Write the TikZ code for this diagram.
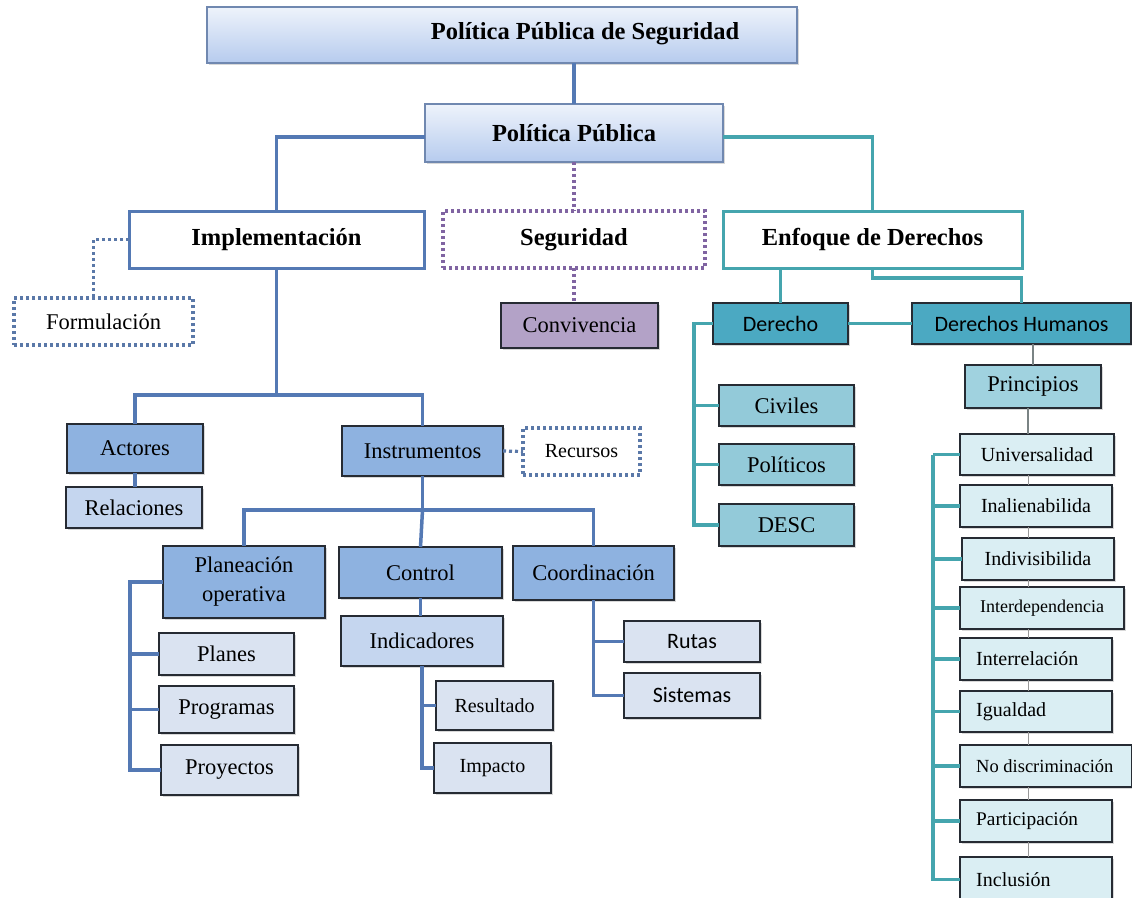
\documentclass[tikz,border=0pt]{standalone}
\usepackage{fontspec}
\setmainfont{Liberation Serif}
\newfontfamily\sansf{Carlito}
\usetikzlibrary{shadows}
\definecolor{cblue}{HTML}{5479B4}
\definecolor{cteal}{HTML}{45A5AE}
\definecolor{cpurp}{HTML}{8064A2}
\definecolor{cdot}{HTML}{5A78A8}
\definecolor{fmid}{HTML}{8EB2E0}
\definecolor{flight}{HTML}{C5D6EF}
\definecolor{fpale}{HTML}{DAE3F1}
\definecolor{fteal}{HTML}{4BA9C2}
\definecolor{ftealL}{HTML}{93CAD9}
\definecolor{fprin}{HTML}{A0D2DF}
\definecolor{flist}{HTML}{DAEEF3}
\definecolor{fconv}{HTML}{B3A2C7}
\definecolor{bdark}{HTML}{262B33}
\definecolor{btop}{HTML}{7088B0}
\definecolor{gtop}{HTML}{EEF3FB}
\definecolor{gbot}{HTML}{B6CBEE}
\newcommand\mkbox[7]{%
  \pgfmathsetmacro\mbcx{(#3+#5)/2}%
  \pgfmathsetmacro\mbcy{(#4+#6)/2}%
  \pgfmathsetmacro\mbw{#5-#3}%
  \pgfmathsetmacro\mbh{#6-#4}%
  \node[#2, minimum width=\mbw pt, minimum height=\mbh pt] (#1) at (\mbcx,\mbcy) {#7};}
\newcommand\mkboxL[7]{%
  \pgfmathsetmacro\mbcx{(#3+#5)/2}%
  \pgfmathsetmacro\mbcy{(#4+#6)/2}%
  \pgfmathsetmacro\mbw{#5-#3}%
  \pgfmathsetmacro\mbh{#6-#4}%
  \pgfmathsetmacro\mbtx{#3+16}%
  \node[#2, minimum width=\mbw pt, minimum height=\mbh pt] (#1) at (\mbcx,\mbcy) {};
  \node[sfont, anchor=west, inner sep=0pt] (#1-t) at (\mbtx,\mbcy) {#7};}
\tikzset{
  base/.style={inner sep=0pt, outer sep=0pt, text=black},
  hfont/.style={font=\fontsize{24.5}{28}\selectfont\bfseries},
  rfont/.style={font=\fontsize{22.5}{29}\selectfont},
  sfont/.style={font=\fontsize{20}{24}\selectfont},
  xsfont/.style={font=\fontsize{18}{22}\selectfont},
  sansfont/.style={font=\sansf\fontsize{22}{26}\selectfont},
  shad/.style={drop shadow={opacity=0.3, shadow xshift=1.5pt, shadow yshift=-1.5pt}},
  gradbox/.style={base, draw=btop, line width=1.5pt, top color=gtop, bottom color=gbot, shad, hfont},
  whiteblue/.style={base, draw=cblue, line width=3pt, fill=white, hfont},
  whiteteal/.style={base, draw=cteal, line width=3pt, fill=white, hfont},
  dotpurp/.style={base, draw=cpurp, line width=3.2pt, dash pattern=on 3pt off 3pt, fill=white, hfont},
  dotblue/.style={base, draw=cdot, line width=3.2pt, dash pattern=on 3pt off 3pt, fill=white},
  filled/.style={base, draw=bdark, line width=1.6pt, fill=#1, shad},
  cline/.style={draw=cblue, line width=3.5pt},
  tline/.style={draw=cteal, line width=3.5pt},
  dline/.style={draw=cdot, line width=3.2pt, dash pattern=on 3pt off 3pt},
  pline/.style={draw=cpurp, line width=3.2pt, dash pattern=on 3pt off 3pt},
  gline/.style={draw=gray!80, line width=1pt},
  gmline/.style={draw=gray!90!cteal, line width=2.5pt},
}
\begin{document}
\begin{tikzpicture}[x=1pt,y=-1pt]
\useasboundingbox (0,0) rectangle (1132,897);
\clip (0,0) rectangle (1132,897);
\fill[white] (0,0) rectangle (1132,897);
% top level
\mkbox{top}{gradbox}{207}{7}{797}{63}{}
\node[hfont, inner sep=0pt] (toptxt) at (585,34) {Política Pública de Seguridad};
\mkbox{pp}{gradbox}{425}{104}{723}{162}{Política Pública}
% second level
\mkbox{impl}{whiteblue}{129}{211}{424}{268}{Implementación}
\mkbox{seg}{dotpurp}{443}{211}{705}{268}{Seguridad}
\mkbox{enf}{whiteteal}{723}{211}{1022}{268}{Enfoque de Derechos}
\mkbox{form}{dotblue,rfont}{14}{298}{193}{345}{Formulación}
\mkbox{conv}{filled=fconv,rfont}{501}{303}{658}{348}{Convivencia}
% rights
\mkbox{der}{filled=fteal,sansfont}{713}{303}{848}{344}{Derecho}
\mkbox{dh}{filled=fteal,sansfont}{912}{303}{1131}{344}{Derechos Humanos}
\mkbox{civ}{filled=ftealL,rfont}{719}{385}{854}{426}{Civiles}
\mkbox{pol}{filled=ftealL,rfont}{719}{444}{854}{485}{Políticos}
\mkbox{desc}{filled=ftealL,rfont}{719}{504}{854}{546}{DESC}
\mkbox{prin}{filled=fprin,rfont}{965}{365}{1101}{408}{Principios}
\mkbox{univ}{filled=flist,sfont}{960}{434}{1114}{475}{Universalidad}
\mkbox{inal}{filled=flist,sfont}{960}{485}{1112}{527}{Inalienabilida}
\mkbox{indi}{filled=flist,sfont}{962}{538}{1114}{580}{Indivisibilida}
\mkbox{inte}{filled=flist,xsfont}{960}{587}{1124}{629}{Interdependencia}
\mkboxL{intr}{filled=flist}{960}{638}{1112}{680}{Interrelación}
\mkboxL{igu}{filled=flist}{960}{691}{1112}{732}{Igualdad}
\mkboxL{nod}{filled=flist}{960}{745}{1132}{787}{\fontsize{18.5}{22}\selectfont No discriminación}
\mkboxL{par}{filled=flist}{960}{800}{1112}{842}{\fontsize{19.3}{22}\selectfont Participación}
\mkboxL{inc}{filled=flist}{960}{857}{1112}{902}{Inclusión}
% implementation branch
\mkbox{act}{filled=fmid,rfont}{67}{424}{203}{473}{Actores}
\mkbox{rel}{filled=flight,rfont}{66}{487}{202}{528}{Relaciones}
\mkbox{inst}{filled=fmid,rfont}{342}{426}{503}{476}{Instrumentos}
\mkbox{rec}{dotblue,sfont}{523}{428}{640}{475}{Recursos}
\mkbox{plan}{filled=fmid,rfont,align=center}{163}{546}{325}{618}{Planeación\\operativa}
\mkbox{ctrl}{filled=fmid,rfont}{339}{547}{502}{598}{Control}
\mkbox{coord}{filled=fmid,rfont}{513}{546}{674}{600}{Coordinación}
\mkbox{plns}{filled=fpale,rfont}{159}{633}{294}{675}{Planes}
\mkbox{prog}{filled=fpale,rfont}{159}{686}{294}{733}{Programas}
\mkbox{proy}{filled=fpale,rfont}{161}{745}{298}{795}{Proyectos}
\mkbox{ind}{filled=flight,rfont}{341}{616}{503}{666}{Indicadores}
\mkbox{res}{filled=fpale,sfont}{436}{681}{553}{730}{Resultado}
\mkbox{imp}{filled=fpale,sfont}{434}{743}{551}{793}{Impacto}
\mkbox{rut}{filled=fpale,sansfont}{624}{621}{760}{662}{Rutas}
\mkbox{sis}{filled=fpale,sansfont}{624}{673}{760}{718}{Sistemas}
% connectors top
\draw[cline] (pp.north |- top.south) -- (pp.north);
\draw[cline] ([yshift=-4pt]pp.west) -| (impl.north);
\draw[pline] (pp.south) -- (seg.north);
\draw[tline] ([yshift=-4pt]pp.east) -| (enf.north);
\draw[dline] (impl.west) -| ([xshift=-10pt]form.north);
\draw[pline] (seg.south) -- (seg.south |- conv.north);
% rights connectors
\draw[tline] (der.north |- enf.south) -- (der.north);
\draw[tline] (enf.south) -- ++(0,10) -| (dh.north);
\draw[tline] (der.east) -- (dh.west);
\coordinate (dsp) at (694,0);
\draw[tline] (der.west) -| (dsp |- desc.west) -- (desc.west);
\draw[tline] (civ.west -| dsp) -- (civ.west);
\draw[tline] (pol.west -| dsp) -- (pol.west);
\draw[gmline] (prin.north |- dh.south) -- (prin.north);
\draw[gmline] (univ.north -| 1028,0) -- (prin.south -| 1028,0);
\draw[gline] (univ.south -| 1028,0) -- (inal.north -| 1028,0);
\draw[gline] (inal.south -| 1028,0) -- (indi.north -| 1028,0);
\draw[gline] (indi.south -| 1028,0) -- (inte.north -| 1028,0);
\draw[gline] (inte.south -| 1028,0) -- (intr.north -| 1028,0);
\draw[gline] (intr.south -| 1028,0) -- (igu.north -| 1028,0);
\draw[gline] (igu.south -| 1028,0) -- (nod.north -| 1028,0);
\draw[gline] (nod.south -| 1028,0) -- (par.north -| 1028,0);
\draw[gline] (par.south -| 1028,0) -- (inc.north -| 1028,0);
\coordinate (rsp) at (933,0);
\draw[tline] (rsp |- univ.west) -- (univ.west);
\draw[tline] (rsp |- univ.west) -- (rsp |- inc.west) -- (inc.west);
\foreach \n in {inal,indi,inte,intr,igu,nod,par}{
  \draw[tline] (rsp |- \n.west) -- (\n.west);
}
% implementation connectors
\draw[cline] (impl.south) -- ++(0,127) coordinate (j1);
\draw[cline] (act.north) |- (j1) -| (inst.north);
\draw[cline] (act.south) -- (act.south |- rel.north);
\draw[dline] (inst.east) -- (rec.west);
\draw[cline] (inst.south) -- ++(0,34) coordinate (j2);
\draw[cline] (plan.north) |- (j2) -| (coord.north);
\draw[cline] (j2) -- (ctrl.north);
\coordinate (psp) at (130,0);
\draw[cline] (plan.west) -| (psp |- proy.west) -- (proy.west);
\draw[cline] (psp |- plns.west) -- (plns.west);
\draw[cline] (psp |- prog.west) -- (prog.west);
\draw[cline] (ctrl.south) -- (ctrl.south |- ind.north);
\draw[cline] (ind.south) |- (imp.west);
\draw[cline] (res.west) -- (res.west -| ind.south);
\draw[cline] (coord.south) |- (sis.west);
\draw[cline] (rut.west) -- (rut.west -| coord.south);
\end{tikzpicture}
\end{document}
